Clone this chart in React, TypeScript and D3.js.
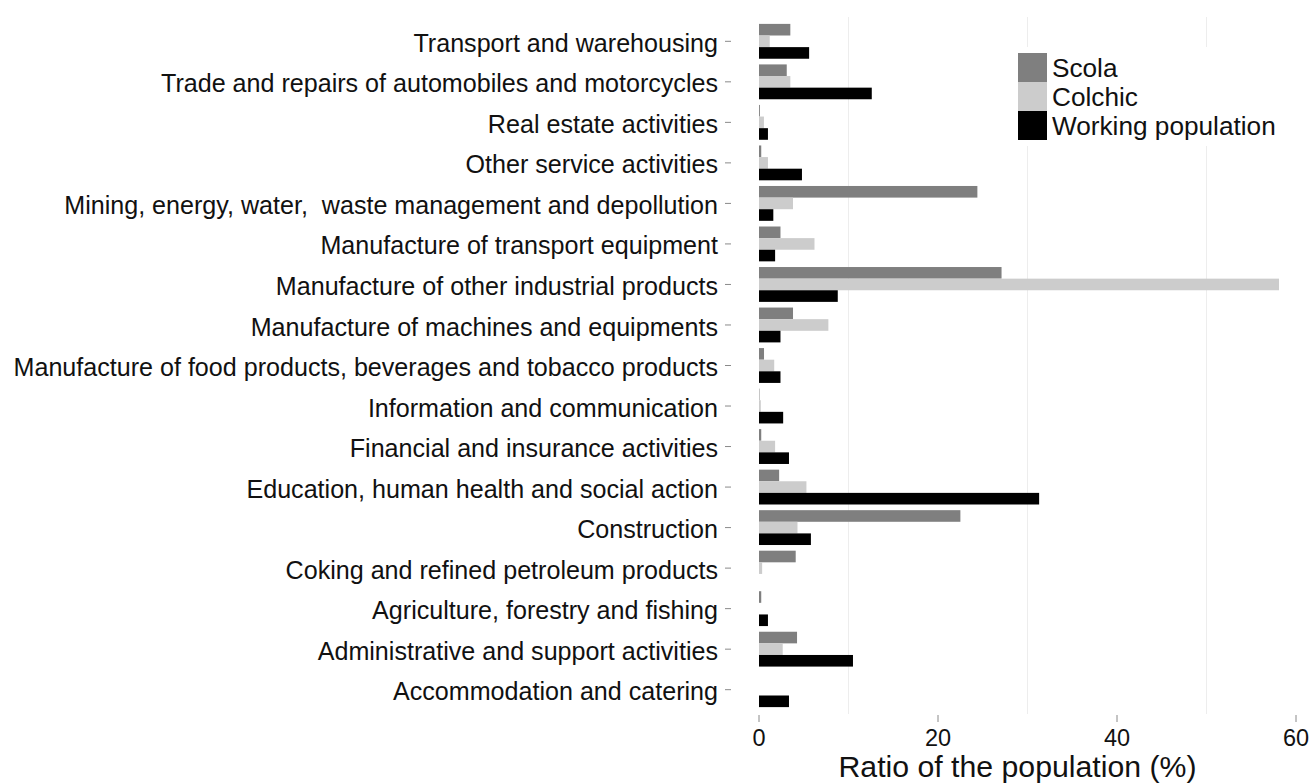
import React from "react";
import * as d3 from "d3";

const categories = [
  "Transport and warehousing",
  "Trade and repairs of automobiles and motorcycles",
  "Real estate activities",
  "Other service activities",
  "Mining, energy, water,  waste management and depollution",
  "Manufacture of transport equipment",
  "Manufacture of other industrial products",
  "Manufacture of machines and equipments",
  "Manufacture of food products, beverages and tobacco products",
  "Information and communication",
  "Financial and insurance activities",
  "Education, human health and social action",
  "Construction",
  "Coking and refined petroleum products",
  "Agriculture, forestry and fishing",
  "Administrative and support activities",
  "Accommodation and catering",
];

const scola = [3.5, 3.1, 0.1, 0.25, 24.4, 2.4, 27.1, 3.8, 0.56, 0.05, 0.25, 2.25, 22.5, 4.1, 0.25, 4.25, 0];
const colchic = [1.2, 3.5, 0.55, 1.0, 3.8, 6.2, 58.1, 7.75, 1.7, 0.2, 1.8, 5.3, 4.3, 0.35, 0, 2.65, 0];
const working = [5.6, 12.6, 1.0, 4.8, 1.6, 1.8, 8.8, 2.4, 2.4, 2.7, 3.35, 31.3, 5.8, 0, 1.0, 10.5, 3.35];

const seriesNames = ["Scola", "Colchic", "Working population"];
const seriesColors = ["#7f7f7f", "#cccccc", "#000000"];
const xTicks = [0, 20, 40, 60];
const xMinorGrid = [10, 30, 50];
const axisTitle = "Ratio of the population (%)";

const W = 1311;
const H = 783;
const FONT = "'Liberation Sans', Arial, sans-serif";

export default function App() {
  const allSeries = [scola, colchic, working];
  const maxV = d3.max(allSeries.flat()) as number;
  const pad = maxV * 0.05;
  const x = d3.scaleLinear().domain([-pad, maxV + pad]).range([733, 1305]);
  const panelTop = 17;
  const panelBottom = 714;
  const y = d3.scalePoint<string>().domain(categories).range([panelTop, panelBottom]).padding(0.6);
  const step = y.step();
  const groupH = step * 0.86;
  const inner = d3.scaleBand<number>().domain([0, 1, 2]).range([-groupH / 2, groupH / 2]);

  return (
    <svg
      width={W}
      height={H}
      style={{ position: "absolute", left: 0, top: 0, background: "#fff" }}
      fontFamily={FONT}
    >
      <rect x={0} y={0} width={W} height={H} fill="#fff" />
      {xMinorGrid.map((v) => (
        <line key={"g" + v} x1={x(v)} x2={x(v)} y1={panelTop} y2={panelBottom} stroke="#ededed" strokeWidth={1} />
      ))}
      {/* legend background */}
      <rect x={1013} y={47} width={272} height={99} fill="#fff" />
      {/* bars */}
      {categories.map((c, i) => (
        <g key={c} transform={`translate(0,${y(c)})`}>
          {allSeries.map((s, k) => (
            <rect
              key={k}
              x={x(0)}
              y={inner(k) as number}
              width={Math.max(0, x(s[i]) - x(0))}
              height={inner.bandwidth()}
              fill={seriesColors[k]}
            />
          ))}
        </g>
      ))}
      {/* y axis labels + ticks */}
      {categories.map((c) => (
        <g key={"l" + c}>
          <line x1={725} x2={731} y1={y(c)} y2={y(c)} stroke="#8a8a8a" strokeWidth={1} />
          <text
            x={718}
            y={(y(c) as number) + 1.5}
            dy="0.36em"
            textAnchor="end"
            fontSize={25.1}
            fill="#111"
            style={{ whiteSpace: "pre" }}
          >
            {c}
          </text>
        </g>
      ))}
      {/* x axis ticks */}
      {xTicks.map((t) => (
        <g key={"t" + t}>
          <line x1={x(t)} x2={x(t)} y1={715} y2={722} stroke="#8a8a8a" strokeWidth={1} />
          <text x={x(t)} y={745.5} textAnchor="middle" fontSize={23.5} fill="#111">
            {t}
          </text>
        </g>
      ))}
      <text
        x={1017.5}
        y={776.5}
        textAnchor="middle"
        fontSize={29}
        fill="#111"
        textLength={358}
        lengthAdjust="spacingAndGlyphs"
      >
        {axisTitle}
      </text>
      {/* legend */}
      {seriesNames.map((n, k) => (
        <g key={"lg" + n}>
          <rect x={1018} y={53 + k * 29} width={29} height={29} fill={seriesColors[k]} />
          <text x={1052} y={53 + k * 29 + 14.5} dy="0.36em" fontSize={26.2} fill="#111">
            {n}
          </text>
        </g>
      ))}
    </svg>
  );
}
